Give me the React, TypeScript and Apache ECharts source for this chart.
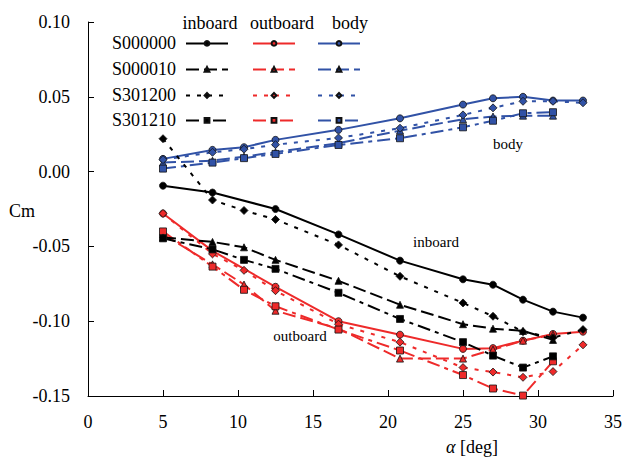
import { useEffect, useRef } from 'react';
import * as echarts from 'echarts';

// ---- data (alpha in deg, Cm) ----
const caseNames = ['S000000', 'S000010', 'S301200', 'S301210'];
const groupNames = ['inboard', 'outboard', 'body'];

const alphaFull = [5, 8.3, 10.4, 12.5, 16.7, 20.8, 25, 27, 29, 31, 33];
const alphaNo10 = [5, 8.3, 12.5, 16.7, 20.8, 25, 27, 29, 31, 33];
const alphaTo31 = [5, 8.3, 10.4, 12.5, 16.7, 20.8, 25, 27, 29, 31];

// inboard
const inS000000 = [-0.0094, -0.014, -0.025, -0.042, -0.0595, -0.072, -0.0756, -0.0856, -0.0936, -0.0976];
const inS000010 = [-0.044, -0.047, -0.0506, -0.059, -0.073, -0.089, -0.102, -0.105, -0.1065, -0.1125];
const inS301200 = [0.022, -0.019, -0.026, -0.032, -0.049, -0.07, -0.0878, -0.0967, -0.107, -0.111, -0.1056];
const inS301210 = [-0.0446, -0.052, -0.059, -0.065, -0.081, -0.0985, -0.114, -0.123, -0.131, -0.1235];
// outboard
const outS000000 = [-0.028, -0.053, -0.077, -0.1, -0.109, -0.1185, -0.118, -0.113, -0.1085, -0.107];
const outS000010 = [-0.042, -0.062, -0.0755, -0.093, -0.105, -0.125, -0.125, -0.119, -0.113, -0.109];
const outS301200 = [-0.028, -0.055, -0.066, -0.0796, -0.102, -0.114, -0.131, -0.134, -0.1375, -0.1337, -0.1158];
const outS301210 = [-0.04, -0.0635, -0.079, -0.09, -0.1056, -0.1196, -0.136, -0.145, -0.1497, -0.1268];
// body
const bodyS000000 = [0.0085, 0.0145, 0.0163, 0.0212, 0.0279, 0.0356, 0.0448, 0.049, 0.05, 0.0475, 0.0475];
const bodyS000010 = [0.006, 0.0073, 0.01, 0.013, 0.019, 0.0274, 0.035, 0.0368, 0.0374, 0.0374];
const bodyS301200 = [0.008, 0.0129, 0.015, 0.018, 0.0225, 0.029, 0.0379, 0.0426, 0.047, 0.047, 0.046];
const bodyS301210 = [0.002, 0.006, 0.009, 0.0118, 0.0178, 0.0223, 0.0296, 0.034, 0.039, 0.0397];

const xTicks = [0, 5, 10, 15, 20, 25, 30, 35];

const seriesTable = [
  [ [alphaNo10, inS000000], [alphaTo31, inS000010], [alphaFull, inS301200], [alphaTo31, inS301210] ],
  [ [alphaNo10, outS000000], [alphaTo31, outS000010], [alphaFull, outS301200], [alphaTo31, outS301210] ],
  [ [alphaFull, bodyS000000], [alphaTo31, bodyS000010], [alphaFull, bodyS301200], [alphaTo31, bodyS301210] ],
];

const groupColors = ['#000000', '#ee2a2a', '#3152a6'];
const caseSymbols = ['circle', 'triangle', 'diamond', 'rect'];
const caseDash: any[] = ['solid', [13, 5], [4, 7], [13, 5, 4, 5]];

const FONT = 'Liberation Serif';

export default function App() {
  const ref = useRef<HTMLDivElement>(null);
  useEffect(() => {
    if (!ref.current) return;
    const chart = echarts.init(ref.current, undefined, { renderer: 'svg' });

    const series: any[] = [];
    const legends: any[] = [];
    const legendX = [185, 252, 317];
    const legendY = [43, 69, 95, 120];
    groupNames.forEach((g, gi) => {
      caseNames.forEach((c, ci) => {
        const [xs, ys] = seriesTable[gi][ci] as [number[], number[]];
        const name = g + ' ' + c;
        const color = groupColors[gi];
        series.push({
          type: 'line',
          name,
          data: xs.map((x, i) => [x, ys[i]]),
          symbol: caseSymbols[ci],
          symbolSize: ci === 2 ? 8 : 7,
          showSymbol: true,
          lineStyle: { color, width: 2, type: caseDash[ci] },
          itemStyle: { color, borderColor: '#111', borderWidth: 0.8 },
          z: 3 - gi,
        });
        legends.push({
          show: true,
          data: [name],
          left: legendX[gi],
          top: legendY[ci] - 3,
          itemWidth: 42,
          itemHeight: 6,
          padding: 0,
          itemGap: 0,
          selectedMode: false,
          formatter: () => '',
          textStyle: { fontSize: 1 },
        });
      });
    });

    const textStyleBase = { fontFamily: FONT, fill: '#000' };
    const graphic: any[] = [
      { type: 'text', x: 210, y: 23, style: { ...textStyleBase, text: 'inboard', fontSize: 18, textAlign: 'center', textVerticalAlign: 'middle' } },
      { type: 'text', x: 282, y: 23, style: { ...textStyleBase, text: 'outboard', fontSize: 18, textAlign: 'center', textVerticalAlign: 'middle' } },
      { type: 'text', x: 350, y: 23, style: { ...textStyleBase, text: 'body', fontSize: 18, textAlign: 'center', textVerticalAlign: 'middle' } },
      ...caseNames.map((c, i) => ({
        type: 'text', x: 112, y: legendY[i], style: { ...textStyleBase, text: c, fontSize: 18, textAlign: 'left', textVerticalAlign: 'middle' },
      })),
      { type: 'text', x: 508, y: 144, style: { ...textStyleBase, text: 'body', fontSize: 15, textAlign: 'center', textVerticalAlign: 'middle' } },
      { type: 'text', x: 436, y: 242, style: { ...textStyleBase, text: 'inboard', fontSize: 15, textAlign: 'center', textVerticalAlign: 'middle' } },
      { type: 'text', x: 300, y: 336, style: { ...textStyleBase, text: 'outboard', fontSize: 15, textAlign: 'center', textVerticalAlign: 'middle' } },
      { type: 'text', x: 22, y: 211, style: { ...textStyleBase, text: 'Cm', fontSize: 18, textAlign: 'center', textVerticalAlign: 'middle' } },
      {
        type: 'text', x: 472, y: 447,
        style: {
          ...textStyleBase,
          text: '{a|α} [deg]',
          fontSize: 18,
          textAlign: 'center',
          textVerticalAlign: 'middle',
          rich: { a: { fontStyle: 'italic', fontFamily: FONT, fontSize: 18 } },
        },
      },
    ];

    chart.setOption({
      animation: false,
      backgroundColor: '#fff',
      grid: { left: 88, right: 9, top: 22, bottom: 68, containLabel: false },
      xAxis: {
        type: 'value',
        min: 0,
        max: 35,
        interval: 5,
        splitLine: { show: false },
        axisLine: { show: true, onZero: false, lineStyle: { color: '#000', width: 1 } },
        axisTick: { show: true, inside: true, length: 6, lineStyle: { color: '#000' } },
        axisLabel: {
          color: '#000', fontSize: 18, fontFamily: FONT, margin: 17,
          formatter: (v: number) => (xTicks.includes(v) ? String(v) : ''),
        },
      },
      yAxis: {
        type: 'value',
        min: -0.15,
        max: 0.1,
        interval: 0.05,
        splitLine: { show: false },
        axisLine: { show: true, onZero: false, lineStyle: { color: '#000', width: 1 } },
        axisTick: { show: true, inside: true, length: 6, lineStyle: { color: '#000' } },
        axisLabel: {
          color: '#000', fontSize: 18, fontFamily: FONT, margin: 18,
          formatter: (v: number) => (Math.abs(v) < 1e-9 ? '0.00' : v.toFixed(2)),
        },
      },
      legend: legends,
      graphic,
      series,
    });
    return () => chart.dispose();
  }, []);
  return (
    <div
      ref={ref}
      style={{ position: 'fixed', left: 0, top: 0, width: 625, height: 464, overflow: 'hidden' }}
    />
  );
}
